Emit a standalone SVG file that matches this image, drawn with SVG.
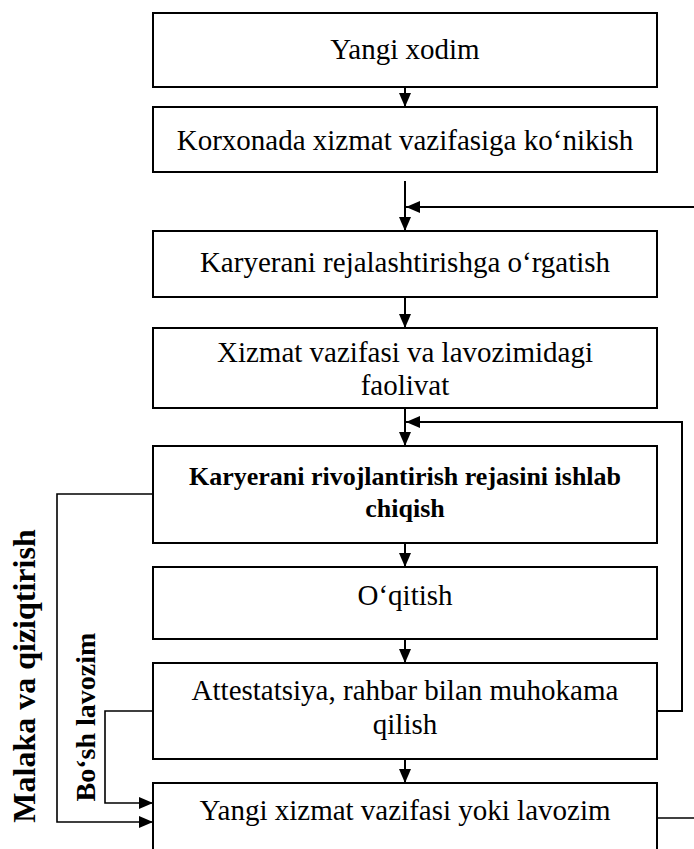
<svg xmlns="http://www.w3.org/2000/svg" width="694" height="849" viewBox="0 0 694 849">
  <style>
    .box { fill: #fff; stroke: #000; stroke-width: 2; }
    .wire { fill: none; stroke: #000; stroke-width: 2; }
    .thin { fill: none; stroke: #000; stroke-width: 1.6; }
    .t { font-family: 'Liberation Serif', serif; font-size: 29px; text-anchor: middle; fill: #000; }
    .tb { font-family: 'Liberation Serif', serif; font-size: 26px; font-weight: bold; text-anchor: middle; fill: #000; }
    .side { font-family: 'Liberation Serif', serif; font-weight: bold; text-anchor: middle; fill: #000; }
  </style>
  <defs>
    <!-- filled arrowhead shared by every connector -->
    <marker id="arrL" viewBox="0 0 14 12" refX="14" refY="6" markerWidth="14" markerHeight="12" markerUnits="userSpaceOnUse" orient="auto">
      <path d="M0,0 L14,6 L0,12 Z" fill="#000"/>
    </marker>
  </defs>
  <rect width="694" height="849" fill="#fff"/>

  <g id="connectors">
    <path class="wire" d="M405,87 V107" marker-end="url(#arrL)"/>
    <path class="wire" d="M405,181 V231" marker-end="url(#arrL)"/>
    <path class="wire" d="M694,207 H406" marker-end="url(#arrL)"/>
    <path class="wire" d="M405,297 V328" marker-end="url(#arrL)"/>
    <path class="wire" d="M405,408 V446" marker-end="url(#arrL)"/>
    <path class="wire" d="M657,711 H682 V422 H406" marker-end="url(#arrL)"/>
    <path class="wire" d="M405,543 V567" marker-end="url(#arrL)"/>
    <path class="wire" d="M405,639 V663" marker-end="url(#arrL)"/>
    <path class="wire" d="M405,759 V783" marker-end="url(#arrL)"/>
    <path class="thin" d="M153,494 H57 V822 H153" marker-end="url(#arrL)"/>
    <path class="thin" d="M153,711 H105 V803 H153" marker-end="url(#arrL)"/>
    <path class="thin" d="M657,818 H694"/>
  </g>

  <g id="n1">
    <rect class="box" x="153" y="13" width="504" height="74"/>
    <text class="t" x="405" y="59" font-size="32">Yangi xodim</text>
  </g>
  <g id="n2">
    <rect class="box" x="153" y="107" width="504" height="65"/>
    <text class="t" x="405" y="150">Korxonada xizmat vazifasiga ko‘nikish</text>
  </g>
  <g id="n3">
    <rect class="box" x="153" y="231" width="504" height="66"/>
    <text class="t" x="405" y="272">Karyerani rejalashtirishga o‘rgatish</text>
  </g>
  <g id="n4">
    <rect class="box" x="153" y="328" width="504" height="80"/>
    <text class="t" x="405" y="362">Xizmat vazifasi va lavozimidagi</text>
    <text class="t" x="405" y="395">faolivat</text>
  </g>
  <g id="n5">
    <rect class="box" x="153" y="446" width="504" height="97"/>
    <text class="tb" x="405" y="485">Karyerani rivojlantirish rejasini ishlab</text>
    <text class="tb" x="405" y="517">chiqish</text>
  </g>
  <g id="n6">
    <rect class="box" x="153" y="567" width="504" height="72"/>
    <text class="t" x="405" y="605">O‘qitish</text>
  </g>
  <g id="n7">
    <rect class="box" x="153" y="663" width="504" height="96"/>
    <text class="t" x="405" y="700">Attestatsiya, rahbar bilan muhokama</text>
    <text class="t" x="405" y="734">qilish</text>
  </g>
  <g id="n8">
    <rect class="box" x="153" y="783" width="504" height="90"/>
    <text class="t" x="405" y="820">Yangi xizmat vazifasi yoki lavozim</text>
  </g>

  <g id="side-labels">
    <text class="side" font-size="32" transform="translate(35,676) rotate(-90)">Malaka va qiziqtirish</text>
    <text class="side" font-size="28" transform="translate(95,717) rotate(-90)">Bo‘sh lavozim</text>
  </g>
</svg>
